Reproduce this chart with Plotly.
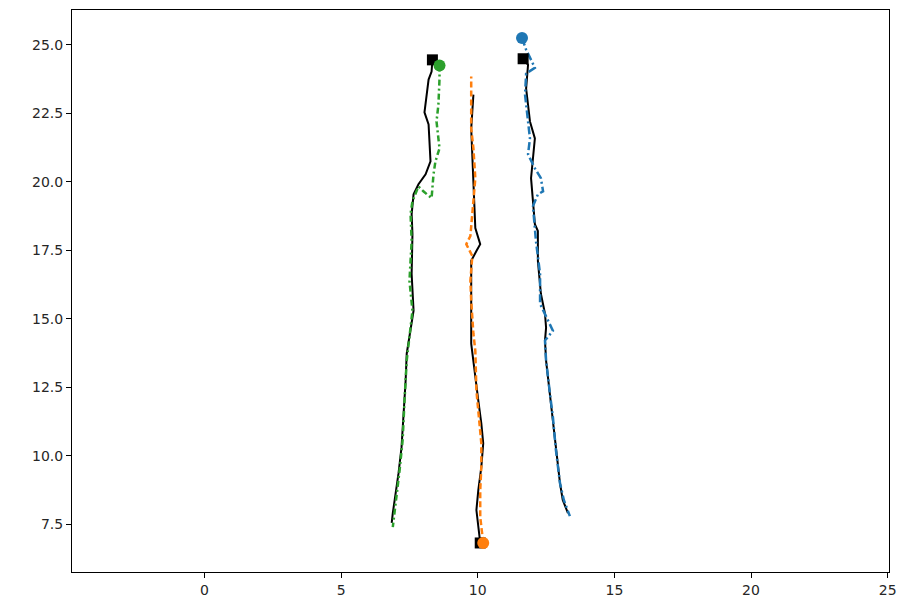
import plotly.graph_objects as go

# Trajectory 1 (green prediction / black ground truth), starts at top
gt1_x = [8.34, 8.31, 8.20, 8.12, 8.05, 8.20, 8.27, 8.09, 7.83, 7.65, 7.58, 7.61, 7.58, 7.65, 7.54, 7.40, 7.36, 7.29, 7.21, 7.10, 6.96, 6.89, 6.85]
gt1_y = [24.45, 24.02, 23.73, 23.04, 22.53, 22.09, 20.74, 20.27, 19.91, 19.54, 18.82, 18.09, 16.63, 15.29, 14.56, 13.72, 12.74, 11.54, 10.30, 9.36, 8.48, 7.90, 7.54]
pr1_x = [8.60, 8.60, 8.56, 8.49, 8.60, 8.45, 8.38, 8.31, 8.01, 7.83, 7.61, 7.54, 7.58, 7.50, 7.61, 7.50, 7.40, 7.32, 7.25, 7.14, 7.03, 6.96, 6.89]
pr1_y = [24.24, 23.76, 22.82, 22.20, 21.22, 20.74, 20.27, 19.40, 19.65, 19.83, 19.29, 18.82, 17.83, 16.38, 15.29, 14.38, 13.47, 12.01, 10.56, 9.47, 8.56, 7.83, 7.39]

# Trajectory 2 (orange prediction), starts at bottom
gt2_x = [10.09, 10.02, 9.95, 10.02, 10.13, 10.20, 10.13, 10.02, 9.91, 9.76, 9.76, 9.76, 9.76, 9.95, 10.09, 9.91, 9.87, 9.84, 9.80, 9.76, 9.80, 9.84]
gt2_y = [6.81, 7.39, 8.01, 8.74, 9.58, 10.45, 11.18, 12.01, 12.85, 14.09, 15.03, 16.27, 17.11, 17.47, 17.72, 18.31, 19.29, 20.13, 21.22, 21.94, 22.56, 23.18]
pr2_x = [10.20, 10.09, 10.09, 10.13, 10.13, 10.02, 9.95, 9.91, 9.84, 9.76, 9.73, 9.80, 9.58, 9.73, 9.76, 9.84, 9.91, 9.84, 9.76, 9.76, 9.76]
pr2_y = [6.81, 7.76, 8.74, 9.58, 10.45, 11.65, 12.38, 13.83, 14.45, 15.65, 16.38, 17.29, 17.72, 18.02, 18.31, 19.29, 20.13, 21.22, 21.94, 23.18, 23.84]

# Trajectory 3 (blue prediction), starts at top
gt3_x = [11.66, 11.84, 11.77, 11.91, 12.09, 12.02, 11.95, 12.02, 12.09, 12.20, 12.20, 12.31, 12.46, 12.50, 12.46, 12.50, 12.57, 12.68, 12.75, 12.82, 12.93, 13.01, 13.11, 13.30]
gt3_y = [24.49, 24.27, 23.40, 22.20, 21.58, 20.74, 20.13, 19.29, 18.45, 18.20, 17.11, 15.91, 15.18, 14.67, 14.20, 13.47, 12.85, 12.01, 11.29, 10.56, 9.72, 8.99, 8.38, 7.90]
pr3_x = [11.62, 11.77, 12.09, 11.77, 11.73, 11.84, 11.91, 11.84, 12.09, 12.31, 12.39, 12.20, 12.02, 12.13, 12.28, 12.28, 12.57, 12.75, 12.46, 12.50, 12.64, 12.75, 12.86, 13.01, 13.15, 13.37]
pr3_y = [25.25, 24.82, 24.16, 23.95, 23.18, 22.20, 21.58, 21.00, 20.49, 20.13, 19.65, 19.54, 19.11, 17.83, 16.63, 15.54, 14.92, 14.56, 14.20, 13.47, 12.27, 11.40, 10.20, 8.99, 8.38, 7.79]

x_ticks = [0, 5, 10, 15, 20, 25]
y_ticks = [7.5, 10.0, 12.5, 15.0, 17.5, 20.0, 22.5, 25.0]

pairs = [
    (gt3_x, gt3_y, pr3_x, pr3_y, "#1f77b4", "8px,3px,2px,3px"),
    (gt2_x, gt2_y, pr2_x, pr2_y, "#ff7f0e", "6px,3px"),
    (gt1_x, gt1_y, pr1_x, pr1_y, "#2ca02c", "6px,3px,2px,3px"),
]

fig = go.Figure()
for gx, gy, px, py, col, dash in pairs:
    fig.add_trace(go.Scatter(x=gx, y=gy, mode="lines",
                             line=dict(color="black", width=2), showlegend=False))
    fig.add_trace(go.Scatter(x=px, y=py, mode="lines",
                             line=dict(color=col, width=2.5, dash=dash), showlegend=False))
    fig.add_trace(go.Scatter(x=[gx[0]], y=[gy[0]], mode="markers",
                             marker=dict(symbol="square", color="black", size=11), showlegend=False))
    fig.add_trace(go.Scatter(x=[px[0]], y=[py[0]], mode="markers",
                             marker=dict(symbol="circle", color=col, size=12), showlegend=False))

axis_common = dict(showgrid=False, zeroline=False, showline=True, linecolor="black",
                   linewidth=1, mirror=True, ticks="outside", ticklen=5, tickwidth=1,
                   tickcolor="black", ticklabeloverflow="allow",
                   tickfont=dict(family="DejaVu Sans", size=14, color="#262626"))
fig.update_xaxes(range=[-4.85, 25.05], tickvals=x_ticks, ticktext=[str(v) for v in x_ticks], **axis_common)
fig.update_yaxes(range=[5.75, 26.27], tickvals=y_ticks, ticktext=[f"{v:.1f}" for v in y_ticks], **axis_common)
fig.update_layout(width=890, height=597, margin=dict(l=64, r=2, t=1, b=33),
                  plot_bgcolor="white", paper_bgcolor="white")
fig.write_html("out.html")
